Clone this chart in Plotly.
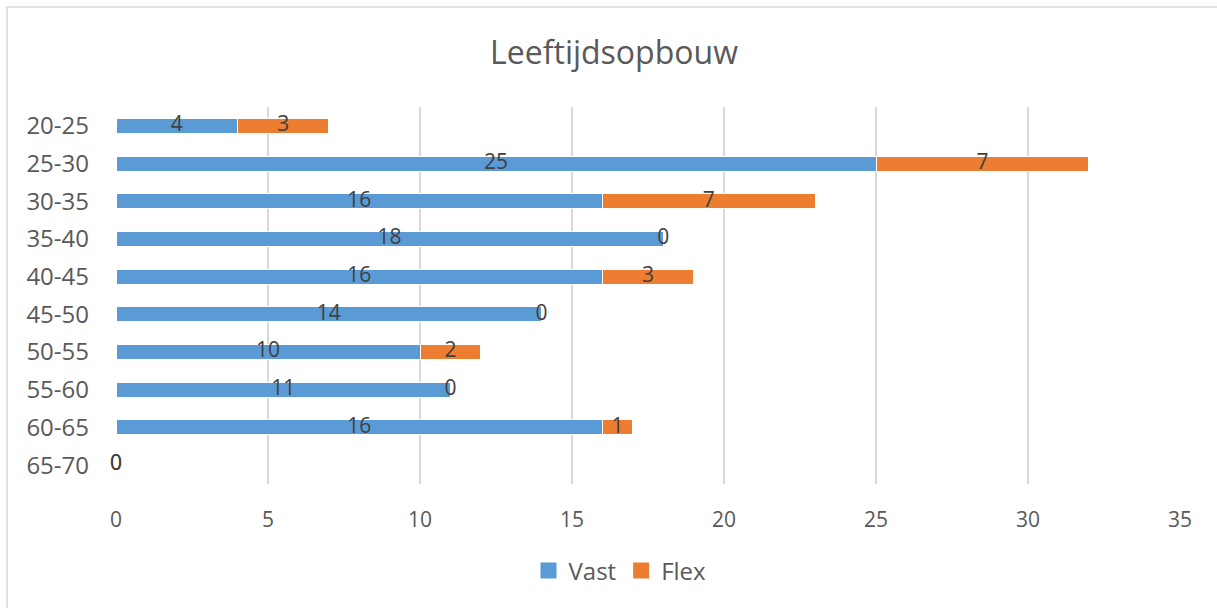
import plotly.graph_objects as go

categories = ["20-25", "25-30", "30-35", "35-40", "40-45", "45-50", "50-55", "55-60", "60-65", "65-70"]
vast = [4, 25, 16, 18, 16, 14, 10, 11, 16, 0]
flex = [3, 7, 7, 0, 3, 0, 2, 0, 1, 0]
x_ticks = [0, 5, 10, 15, 20, 25, 30, 35]
series_names = ["Vast", "Flex"]

BLUE = "#5B9BD5"
ORANGE = "#ED7D31"
FONT = "Open Sans"

W, H = 1217, 608
ML, MR, MT, MB = 116, 37, 107, 124
PW, PH = W - ML - MR, H - MT - MB

fig = go.Figure()
fig.add_bar(y=categories, x=vast, orientation="h", name=series_names[0], showlegend=False,
            marker=dict(color=BLUE, line=dict(color="white", width=1)), hoverinfo="skip")
fig.add_bar(y=categories, x=flex, orientation="h", name=series_names[1], showlegend=False,
            marker=dict(color=ORANGE, line=dict(color="white", width=1)), hoverinfo="skip")

# data labels centred in each segment
vast_mid = [v / 2 for v in vast]
flex_mid = [v + f / 2 for v, f in zip(vast, flex)]
for xs, vals in ((vast_mid, vast), (flex_mid, flex)):
    fig.add_scatter(x=xs, y=categories, mode="text", text=[str(v) for v in vals],
                    textposition="middle center", cliponaxis=False,
                    textfont=dict(family=FONT, size=21, color="#404040"),
                    showlegend=False, hoverinfo="skip")

# legend entries with square swatches
for name, col in zip(series_names, (BLUE, ORANGE)):
    fig.add_scatter(x=[None], y=[None], mode="markers", name=name,
                    marker=dict(symbol="square", size=16, color=col), hoverinfo="skip")

def px(x):
    return (x - ML) / PW

def py(y):
    return (H - MB - y) / PH

fig.add_shape(type="rect", xref="paper", yref="paper",
              x0=px(7), x1=px(W + 5), y0=py(H + 5), y1=py(7),
              line=dict(color="#D9D9D9", width=1.5), fillcolor="rgba(0,0,0,0)", layer="below")

fig.update_layout(
    width=W, height=H,
    margin=dict(l=ML, r=MR, t=MT, b=MB),
    barmode="stack", bargap=0.6,
    plot_bgcolor="white", paper_bgcolor="white",
    font=dict(family=FONT, color="#595959"),
    title=dict(text="Leeftijdsopbouw", x=614 / W, xanchor="center",
               y=1 - 53 / H, yanchor="middle", yref="container",
               font=dict(family=FONT, size=32, color="#595959")),
    legend=dict(orientation="h", x=(620 - ML) / PW, xanchor="center",
                y=py(571), yanchor="middle", itemsizing="trace",
                font=dict(family=FONT, size=24, color="#595959"),
                itemwidth=30, traceorder="normal"),
    xaxis=dict(range=[0, 35], tickvals=x_ticks, showgrid=True, gridcolor="#D9D9D9",
               gridwidth=1.5, zeroline=False, showline=False,
               tickfont=dict(family=FONT, size=21, color="#595959"),
               ticklabelstandoff=21, fixedrange=True),
    yaxis=dict(categoryorder="array", categoryarray=categories, autorange="reversed",
               showgrid=False, zeroline=False, showline=False,
               tickfont=dict(family=FONT, size=24, color="#595959"),
               ticklabelstandoff=26, fixedrange=True),
)

fig.write_html("out.html")
